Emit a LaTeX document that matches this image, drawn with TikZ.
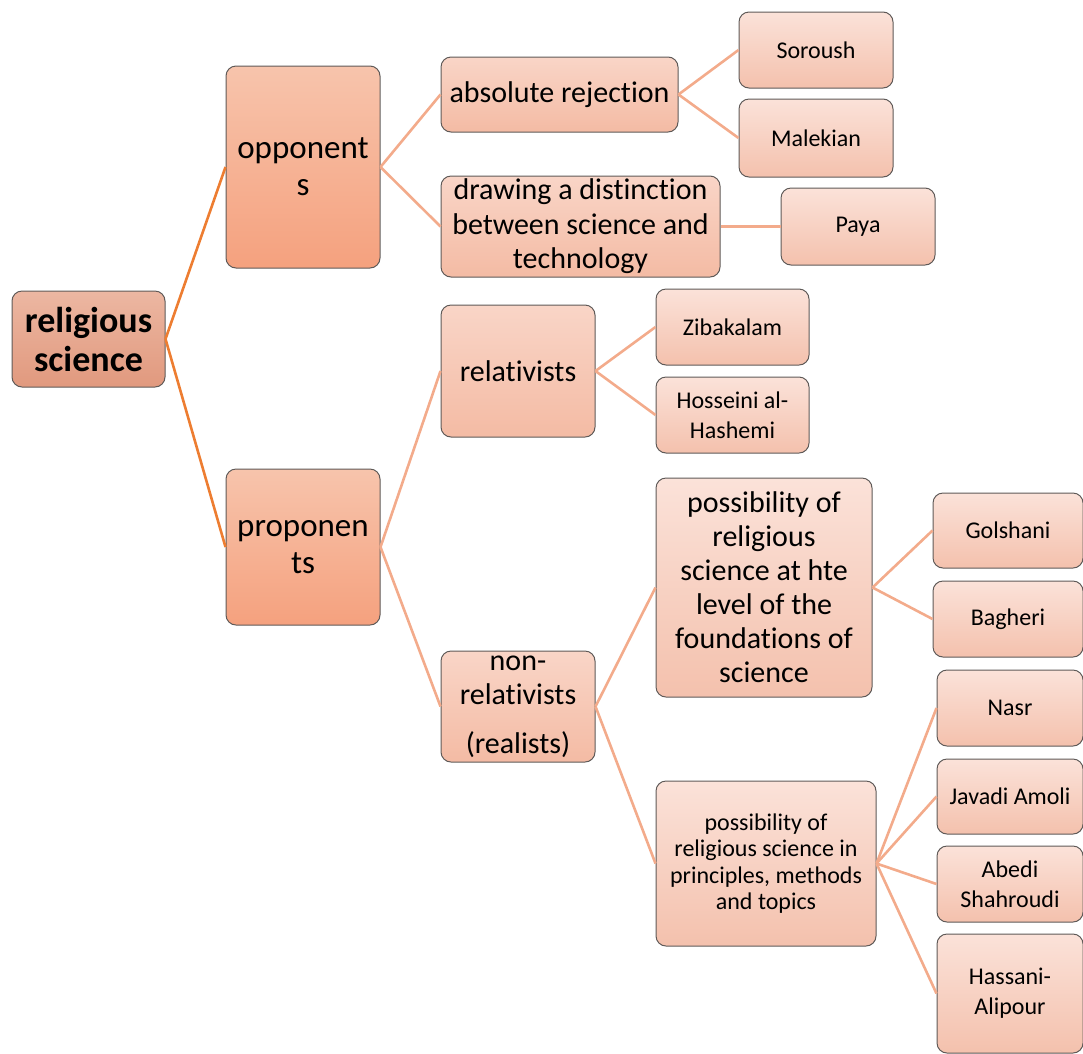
\documentclass[tikz,border=0pt]{standalone}
\usepackage{fontspec}
\setmainfont{Carlito}[Ligatures={NoCommon,NoRequired,NoContextual},RawFeature={-liga;-clig;-dlig;-calt}]
\usepackage{tikz}
\usetikzlibrary{positioning}
\definecolor{rootedge}{HTML}{ED7D31}
\definecolor{subedge}{HTML}{F3AB8B}
\definecolor{boxline}{HTML}{5F5A58}
\definecolor{roottop}{HTML}{ECB7A2}
\definecolor{rootbot}{HTML}{E1997E}
\definecolor{grouptop}{HTML}{F7C4AC}
\definecolor{groupbot}{HTML}{F5A17E}
\definecolor{viewtop}{HTML}{F9D5C7}
\definecolor{viewbot}{HTML}{F4BBA4}
\definecolor{nametop}{HTML}{FBE2D9}
\definecolor{namebot}{HTML}{F4C1AD}
\tikzset{
  base/.style={draw=boxline, line width=1pt, rounded corners=10pt, align=center, inner sep=0pt},
  rootbox/.style={base, top color=roottop, bottom color=rootbot, font=\fontsize{36}{39}\selectfont\bfseries},
  groupbox/.style={base, top color=grouptop, bottom color=groupbot, font=\fontsize{33}{37}\selectfont},
  viewbox/.style={base, top color=viewtop, bottom color=viewbot, font=\fontsize{30}{34.5}\selectfont},
  namebox/.style={base, top color=nametop, bottom color=namebot, font=\fontsize{24}{30}\selectfont},
  bigname/.style={namebox, font=\fontsize{30}{34}\selectfont},
  smallview/.style={namebox, font=\fontsize{24}{26.5}\selectfont},
  trunk/.style={draw=rootedge, line width=2.6pt},
  twig/.style={draw=subedge, line width=2.6pt}
}
\begin{document}
\begin{tikzpicture}[x=1pt, y=-1pt]
    \useasboundingbox (0,0) rectangle (1083,1053);
    % root and first level
    \node[rootbox, minimum width=153pt, minimum height=96pt] (root) at (88.5,339) {religious\\science};
    \node[groupbox, minimum width=154pt, minimum height=202pt] (opp) at (303,167) {opponent\\s};
    \node[groupbox, minimum width=154pt, minimum height=156pt] (pro) at (303,547) {proponen\\ts};
    % opponents
    \node[viewbox, minimum width=237pt, minimum height=75pt] (absolute) at (559.5,94.5) {absolute rejection};
    \node[viewbox, minimum width=279pt, minimum height=101pt] (distinction) at (580.5,226.5) {drawing a distinction\\between science and\\technology};
    \node[namebox, minimum width=154pt, minimum height=76pt] (soroush) at (816,50) {Soroush};
    \node[namebox, minimum width=154pt, minimum height=78pt] (malekian) at (816,138) {Malekian};
    \node[namebox, minimum width=154pt, minimum height=77pt] (paya) at (858,226.5) {Paya};
    % proponents
    \node[viewbox, minimum width=154pt, minimum height=132pt] (relat) at (518,371) {relativists};
    \node[viewbox, minimum width=154pt, minimum height=111pt] (nonrelat) at (518,706.5) {non-\\relativists\\[14pt](realists)};
    \node[namebox, minimum width=153pt, minimum height=76pt] (zibakalam) at (732.5,327) {Zibakalam};
    \node[namebox, minimum width=153pt, minimum height=76pt] (hosseini) at (732.5,415) {Hosseini al-\\Hashemi};
    \node[bigname, minimum width=216pt, minimum height=219pt] (foundations) at (764,587.5) {possibility of\\religious\\science at hte\\level of the\\foundations of\\science};
    \node[smallview, minimum width=220pt, minimum height=165pt] (principles) at (766,863.5) {possibility of\\religious science in\\principles, methods\\and topics};
    \node[namebox, minimum width=150pt, minimum height=75pt] (golshani) at (1008,530.5) {Golshani};
    \node[namebox, minimum width=150pt, minimum height=76pt] (bagheri) at (1008,619) {Bagheri};
    \node[namebox, minimum width=146pt, minimum height=76pt] (nasr) at (1010,708) {Nasr};
    \node[namebox, minimum width=146pt, minimum height=75pt] (javadi) at (1010,796.5) {Javadi Amoli};
    \node[namebox, minimum width=146pt, minimum height=76pt] (abedi) at (1010,884) {Abedi\\Shahroudi};
    \node[namebox, minimum width=146pt, minimum height=119pt] (hassani) at (1010,993.5) {Hassani-\\Alipour};
    % connectors
    \draw[trunk] (root.east) -- (opp.west);
    \draw[trunk] (root.east) -- (pro.west);
    \foreach \a/\b in {opp/absolute, opp/distinction, absolute/soroush, absolute/malekian,
                      distinction/paya, pro/relat, pro/nonrelat, relat/zibakalam, relat/hosseini,
                      nonrelat/foundations, nonrelat/principles, foundations/golshani, foundations/bagheri,
                      principles/nasr, principles/javadi, principles/abedi, principles/hassani}
        \draw[twig] (\a.east) -- (\b.west);
\end{tikzpicture}
\end{document}
